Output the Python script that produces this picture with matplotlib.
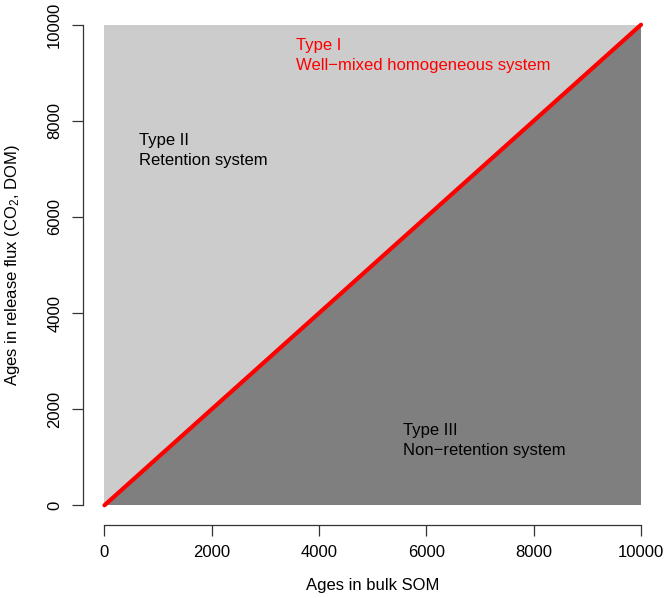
import matplotlib
matplotlib.use("Agg")
import matplotlib.pyplot as plt
from matplotlib.patches import Polygon

plt.rcParams['font.family'] = ['Liberation Sans', 'DejaVu Sans']
plt.rcParams['mathtext.fontset'] = 'custom'
plt.rcParams['mathtext.rm'] = 'Liberation Sans'
plt.rcParams['mathtext.it'] = 'Liberation Sans:italic'

# data
xmax = 10000
ymax = 10000
ticks = [0, 2000, 4000, 6000, 8000, 10000]
line_x = [0, 10000]
line_y = [0, 10000]
labels = [
    (650, 7375, "Type II\nRetention system", "black"),
    (3575, 9354, "Type I\nWell\u2212mixed homogeneous system", "red"),
    (5570, 1354, "Type III\nNon\u2212retention system", "black"),
]

fig = plt.figure(figsize=(6.66, 5.98), dpi=100)
ax = fig.add_axes([83/666, (598-524.5)/598, 579.5/666, 519/598])
ext_x = 0.04 * xmax
ext_y = 0.04 * ymax
ax.set_xlim(-ext_x, xmax + ext_x)
ax.set_ylim(-ext_y, ymax + ext_y)

# upper triangle (light) and lower triangle (dark)
ax.add_patch(Polygon([[0, 0], [0, ymax], [xmax, ymax]], closed=True,
                     facecolor='#CCCCCC', edgecolor='none'))
ax.add_patch(Polygon([[0, 0], [xmax, 0], [xmax, ymax]], closed=True,
                     facecolor='#7F7F7F', edgecolor='none'))
ax.plot(line_x, line_y, color='#FF0000', lw=3.0, solid_capstyle='round')

fs = 12
for x, y, t, c in labels:
    ax.text(x, y, t, color=c, fontsize=fs, ha='left', va='center', linespacing=1.4)

for s in ['top', 'right']:
    ax.spines[s].set_visible(False)
for s in ['left', 'bottom']:
    ax.spines[s].set_color('#333333')
    ax.spines[s].set_linewidth(0.9)
ax.spines['left'].set_bounds(0, ymax)
ax.spines['bottom'].set_bounds(0, xmax)
ax.set_xticks(ticks)
ax.set_yticks(ticks)
ax.set_xticklabels([str(t) for t in ticks], fontsize=fs)
ax.set_yticklabels([str(t) for t in ticks], fontsize=fs, rotation=90, va='center')
ax.tick_params(axis='both', length=8, width=0.9, color='#333333', pad=7)
ax.set_xlabel("Ages in bulk SOM", fontsize=fs, labelpad=13)
ax.set_ylabel("Ages in release flux (CO$_2$, DOM)", fontsize=fs, labelpad=18)

fig.savefig("out.png", dpi=100)
